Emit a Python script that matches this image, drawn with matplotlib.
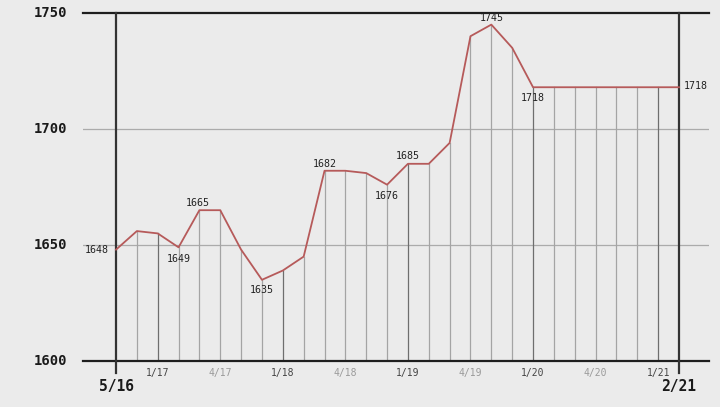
import matplotlib
matplotlib.use("Agg")
import matplotlib.pyplot as plt

# ---- data ----
values = [1648, 1656, 1655, 1649, 1665, 1665, 1648, 1635, 1639, 1645,
          1682, 1682, 1681, 1676, 1685, 1685, 1694, 1740, 1745, 1735,
          1718, 1718, 1718, 1718, 1718, 1718, 1718, 1718]
period_labels = ['5/16', '', '1/17', '', '', '4/17', '', '', '1/18', '', '',
                 '4/18', '', '', '1/19', '', '', '4/19', '', '', '1/20', '',
                 '', '4/20', '', '', '1/21', '2/21']
y_ticks = [1600, 1650, 1700, 1750]
annotated = {0: '1648', 3: '1649', 4: '1665', 7: '1635', 10: '1682',
             13: '1676', 14: '1685', 18: '1745', 20: '1718', 27: '1718'}

# ---- figure ----
W, H = 720, 407
fig = plt.figure(figsize=(W / 100, H / 100), dpi=100)
bg = '#ebebeb'
fig.patch.set_facecolor(bg)

n = len(values)
last = n - 1
px_left, px_right = 83, 709
x0_px, x1_px = 116, 679
per = (x1_px - x0_px) / last
xmin = (px_left - x0_px) / per
xmax = (px_right - x0_px) / per
top_px, bot_px = 13, 361
ax = fig.add_axes([px_left / W, (H - bot_px) / H, (px_right - px_left) / W,
                   (bot_px - top_px) / H])
ax.set_facecolor(bg)
ax.set_xlim(xmin, xmax)
ax.set_ylim(y_ticks[0], y_ticks[-1])
ax.axis('off')

xs = list(range(n))
mono = 'DejaVu Sans Mono'

# horizontal lines
for yv in y_ticks:
    if yv in (y_ticks[0], y_ticks[-1]):
        ax.axhline(yv, color='#1e1e1e', lw=1.6, zorder=3, clip_on=False)
    else:
        ax.axhline(yv, color='#ababab', lw=0.9, zorder=1)

# vertical drop lines
for i in range(1, last):
    dark = period_labels[i].startswith('1/')
    ax.plot([i, i], [y_ticks[0], values[i]],
            color='#6e6e6e' if dark else '#a4a4a4', lw=0.9, zorder=2)

# main axes verticals
ext = 5.2
for i in (0, last):
    ax.plot([i, i], [y_ticks[0] - ext, y_ticks[-1]], color='#333333',
            lw=1.6, zorder=3, clip_on=False)

# the series
ax.plot(xs, values, color='#b65a5a', lw=1.3, zorder=4, solid_joinstyle='round')

# y tick labels
for yv in y_ticks:
    ax.annotate(str(yv), xy=(xmin, yv), xytext=(-16, 0),
                textcoords='offset pixels', ha='right', va='center',
                fontsize=10, fontweight='bold', family=mono, color='#1a1a1a',
                annotation_clip=False)

# x labels
for i, lab in enumerate(period_labels):
    if not lab:
        continue
    if i in (0, last):
        ax.annotate(lab, xy=(i, y_ticks[0]), xytext=(0, -25),
                    textcoords='offset pixels', ha='center', va='center',
                    fontsize=10.5, fontweight='bold', family=mono,
                    color='#1a1a1a', annotation_clip=False)
    else:
        col = '#444444' if lab.startswith('1/') else '#9a9a9a'
        ax.annotate(lab, xy=(i, y_ticks[0]), xytext=(0, -12),
                    textcoords='offset pixels', ha='center', va='center',
                    fontsize=7, family=mono, color=col,
                    annotation_clip=False)

# point annotations (pixel offsets)
offsets = {0: (-19, 0), 3: (0, -12), 4: (-2, 7), 7: (0, -10), 10: (0, 7),
           13: (0, -11), 14: (0, 8), 18: (0, 7), 20: (0, -11), 27: (17, 1)}
for i, txt in annotated.items():
    dx, dy = offsets[i]
    ax.annotate(txt, xy=(i, values[i]), xytext=(dx, dy),
                textcoords='offset pixels', ha='center', va='center',
                fontsize=7.2, family=mono, color='#222222', zorder=5,
                annotation_clip=False)

fig.savefig('out.png', dpi=100, facecolor=bg)
